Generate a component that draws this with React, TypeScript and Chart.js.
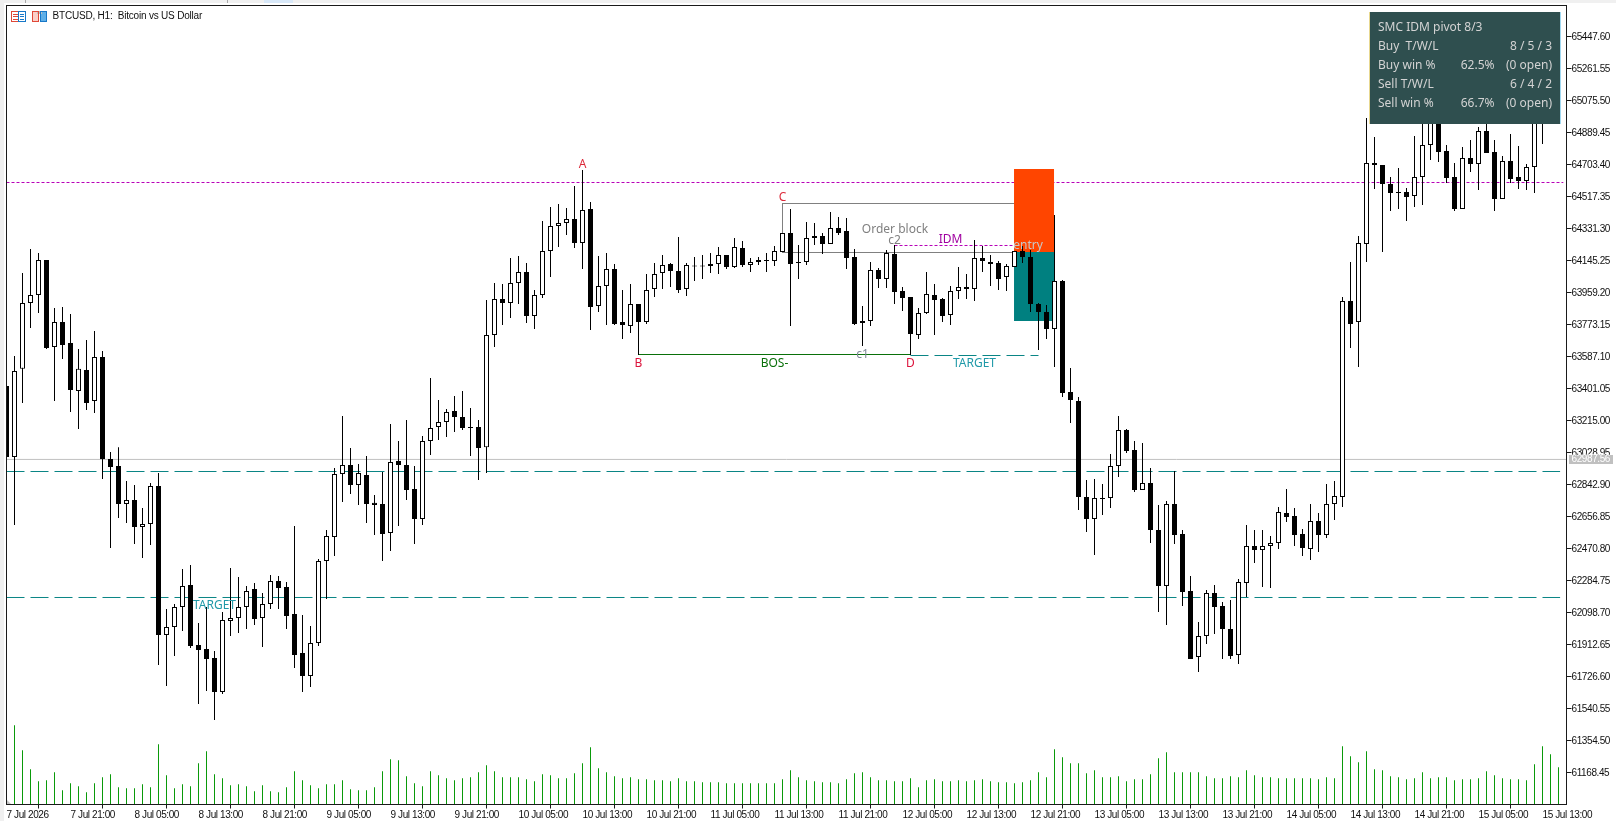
import React, { useEffect, useRef } from "react";
import { Chart, registerables } from "chart.js";

Chart.register(...registerables);

const opens = [
  63414,63001,63514,63897,63944,64147,63641,63786,63665,63385,
  63507,63327,63583,62990,62949,62729,62752,62594,62612,62833,
  61967,62013,62129,62258,61909,61885,61833,61635,62048,62065,
  62129,62234,62065,62147,62281,62246,62089,61862,61728,61920,
  62397,62536,62903,62955,62839,62897,62735,62729,62560,62978,
  62955,62816,62641,63095,63176,63205,63269,63234,63176,63176,
  63059,63711,63920,63897,64013,64077,63821,63944,64199,64345,
  64362,64385,64246,64443,63880,63996,64094,63786,63763,63891,
  63786,63978,64071,64124,64083,63978,64109,64112,64112,64124,
  64176,64106,64217,64118,64135,64147,64141,64193,64304,64135,
  64135,64275,64287,64240,64333,64315,64165,63780,63792,64089,
  64036,64182,63967,63932,63711,63839,63944,63920,63827,63967,
  63990,63978,64159,64135,64129,64048,64106,64199,64165,63891,
  63845,63746,64025,63379,63327,62769,62641,62757,62763,62949,
  63159,63042,62810,62850,62577,62252,62729,62554,62222,61839,
  61961,62211,62135,62002,61851,62269,62484,62461,62484,62502,
  62676,62659,62554,62467,62629,62548,62728,62769,63908,63786,
  64240,64711,64699,64589,64542,64542,64519,64629,64816,65048,
  64781,64629,64443,64740,64705,64897,64775,64502,64722,64629,
  64606,64688,65251,65135,65310,
];
const closes = [
  63001,63501,63897,63944,64147,63636,63786,63653,63391,63514,
  63316,63583,62990,62943,62729,62752,62594,62612,62833,61967,
  62013,62129,62252,61903,61880,61827,61635,62054,62065,62129,
  62222,62060,62147,62281,62240,62077,61851,61728,61920,62397,
  62542,62903,62955,62839,62909,62729,62723,62554,62973,62955,
  62810,62641,63095,63170,63205,63263,63234,63170,63170,63054,
  63711,63920,63897,64013,64077,63821,63944,64199,64345,64362,
  64385,64246,64438,63874,63996,64094,63775,63769,63891,63786,
  63973,64065,64118,64083,63973,64118,64112,64109,64124,64176,
  64106,64222,64118,64135,64147,64141,64199,64304,64124,64129,
  64275,64287,64240,64333,64304,64159,63775,63792,64089,64036,
  64188,63961,63926,63717,63839,63949,63914,63821,63967,63990,
  63978,64159,64141,64124,64036,64112,64199,64165,63891,63845,
  63746,64025,63373,63333,62769,62641,62763,62763,62949,63159,
  63036,62810,62850,62577,62252,62729,62548,62217,61827,61961,
  62211,62129,62002,61845,62275,62484,62461,62484,62502,62682,
  62653,62548,62473,62629,62548,62728,62775,63908,63775,64246,
  64711,64699,64589,64536,64536,64513,64629,64816,65019,64775,
  64624,64443,64740,64705,64897,64769,64502,64722,64618,64606,
  64688,65077,65077,65310,65077,
];
const highs = [
  63414,63589,64072,64211,64188,64147,63868,63874,63833,63630,
  63682,63734,63618,63030,63059,62862,62839,62705,62850,62909,
  62118,62147,62351,62374,62037,62129,61874,62100,62356,62304,
  62252,62269,62211,62316,62310,62275,62600,62083,62019,62409,
  62577,62938,63240,63054,62961,63007,62781,62915,63194,63095,
  63217,62949,63123,63461,63333,63281,63356,63385,63287,63217,
  63914,64013,64007,64159,64170,64129,63973,64374,64455,64473,
  64449,64577,64670,64484,64170,64188,64124,63973,64007,63891,
  64065,64129,64176,64129,64281,64129,64165,64176,64188,64223,
  64176,64275,64257,64159,64165,64188,64228,64304,64443,64234,
  64368,64362,64304,64426,64397,64391,64211,63879,64135,64100,
  64205,64234,63990,63932,63868,64077,64007,63926,63996,64106,
  64065,64263,64228,64176,64141,64124,64199,64228,64205,63897,
  63885,64409,64031,63519,63350,62868,62874,62845,63019,63240,
  63165,63095,63083,62938,62723,62746,62920,62577,62310,62042,
  62228,62258,62159,62170,62292,62606,62577,62577,62542,62711,
  62816,62705,62583,62728,62676,62845,62862,63932,64135,64286,
  64972,64862,64699,64629,64682,64565,64868,64972,65077,65106,
  64816,64711,64804,64845,64920,64990,64845,64751,64880,64810,
  64705,65135,65310,65370,65400,
];
const lows = [
  62995,62606,63316,63752,63839,63630,63327,63572,63263,63165,
  63275,63257,62874,62473,62647,62618,62496,62414,62490,61792,
  61670,61845,61990,61891,61566,61641,61473,61624,61961,61978,
  62002,62025,61897,62118,62118,62002,61775,61635,61664,61903,
  62176,62426,62740,62786,62723,62618,62548,62397,62455,62600,
  62752,62496,62606,63013,63100,63118,63147,63159,63007,62868,
  62909,63641,63769,63810,63891,63780,63746,63926,64048,64222,
  64292,64217,64094,63740,63845,63769,63769,63687,63722,63595,
  63775,63932,63978,63990,63955,63938,64025,64036,64071,64065,
  64094,64100,64106,64077,64118,64077,64112,64193,63763,64036,
  64118,64234,64182,64240,64292,64094,63769,63647,63763,63984,
  63984,63891,63850,63595,63687,63833,63711,63786,63769,63920,
  63920,63909,64077,63996,63973,63967,64106,64129,63845,63624,
  63687,63525,63350,63199,62694,62565,62432,62664,62705,62885,
  63025,62798,62810,62502,62100,62025,62496,62135,61827,61751,
  61915,61973,61827,61827,61798,62188,62385,62246,62240,62467,
  62624,62484,62426,62403,62450,62531,62635,62711,63635,63525,
  64135,64560,64193,64432,64443,64374,64455,64467,64728,64716,
  64595,64432,64443,64658,64554,64769,64432,64502,64595,64560,
  64554,64536,64821,65077,65000,
];
const volumes = [
  430,2380,1630,1060,700,730,970,430,640,550,
  370,640,820,910,520,490,490,610,520,1810,
  880,490,610,550,1240,1600,910,790,580,610,
  550,400,580,400,370,520,1000,730,580,490,
  610,610,730,460,430,430,520,1000,1360,1330,
  850,640,550,1000,880,790,730,790,820,970,
  1180,1000,820,820,820,760,700,910,880,790,
  790,940,1240,1720,1090,970,850,790,820,760,
  760,730,730,700,790,700,700,670,670,670,
  640,640,640,640,640,640,640,760,1030,820,
  730,700,670,670,640,760,940,970,820,730,
  730,700,700,790,520,730,760,700,700,730,
  700,730,760,700,670,670,640,670,730,970,
  820,1660,1420,1240,1240,940,1030,820,820,850,
  700,760,760,910,1390,1570,970,970,970,970,
  850,790,790,850,820,1030,880,820,820,790,
  790,790,790,790,760,820,790,1750,1450,1270,
  1600,1060,1030,850,820,760,790,970,790,820,
  820,730,760,760,790,1000,880,790,760,760,
  730,1210,1750,1510,1120,
];

const xTickBars = [0,8,16,24,32,40,48,56,64,72,80,88,96,104,112,120,128,136,144,152,160,168,176,184,192];
const xTickLabels = [
  "7 Jul 2026","7 Jul 21:00","8 Jul 05:00","8 Jul 13:00","8 Jul 21:00","9 Jul 05:00","9 Jul 13:00","9 Jul 21:00",
  "10 Jul 05:00","10 Jul 13:00","10 Jul 21:00","11 Jul 05:00","11 Jul 13:00","11 Jul 21:00","12 Jul 05:00","12 Jul 13:00",
  "12 Jul 21:00","13 Jul 05:00","13 Jul 13:00","13 Jul 21:00","14 Jul 05:00","14 Jul 13:00","14 Jul 21:00","15 Jul 05:00","15 Jul 13:00",
];
const yTickValues = [
  65447.6,65261.55,65075.5,64889.45,64703.4,64517.35,64331.3,64145.25,63959.2,63773.15,63587.1,63401.05,
  63215,63028.95,62842.9,62656.85,62470.8,62284.75,62098.7,61912.65,61726.6,61540.55,61354.5,61168.45,
];

const bidPrice = 62987.56;
const pivotLevel = 64597.5;
const upperTargetLevel = 62917.3;
const lowerTargetLevel = 62184.8;
const bosLevel = 63597.5;
const setupTargetLevel = 63591.7;
const idmLevel = 64231.3;

const labelTexts = ["A","B","C","D","Order block","c2","c1","IDM","entry","BOS-","TARGET","TARGET"];
const labelBars = [72,79,97,113,111.06,111,107,118,127.7,96,121,26];
const labelPrices = [64703,63546,64508,63544,64322,64262,63598,64264,64228,63546,63544,62138];
const labelColors = ["#dc2a3a","#dc143c","#dc2a3a","#dc143c","#808080","#808080","#808a98","#a000a0","#c8c8c8","#0a700a","#1f99a8","#1f99a8"];

const panelRows = [
  ["SMC IDM pivot 8/3","",""],
  ["Buy  T/W/L","","8 / 5 / 3"],
  ["Buy win %","62.5%","(0 open)"],
  ["Sell T/W/L","","6 / 4 / 2"],
  ["Sell win %","66.7%","(0 open)"],
];
const titleText = "BTCUSD, H1:  Bitcoin vs US Dollar";

const W = 1616, H = 821, L = 6.5, R = 1566.5, T = 5.5, B = 804.5;
const AXIS_FONT = { family: "'Liberation Sans',sans-serif", size: 10 };
const AXIS_SPACING = "-0.4px";

const bars = opens.map((_, i) => i);

function hline(y: number, from: number, to: number, color: string, dash: number[], order: number) {
  return {
    type: "line", data: [{ x: from, y }, { x: to, y }], borderColor: color, borderDash: dash, borderWidth: 1,
    pointRadius: 0, tension: 0, order, yAxisID: "y", xAxisID: "x",
  };
}

function noPad(s: any) {
  s.paddingTop = 0; s.paddingBottom = 0; s.paddingLeft = 0; s.paddingRight = 0;
}

const overlay = {
  id: "overlay",
  afterLayout(chart: any) {
    const items = chart.scales.y.getLabelItems(chart.chartArea);
    items.forEach((it: any) => { it.options.translation = [it.options.translation[0], it.options.translation[1] + 1]; });
  },
  beforeDraw(chart: any) {
    const c = chart.ctx;
    c.save();
    c.fillStyle = "#ffffff"; c.fillRect(0, 0, W, H);
    c.fillStyle = "#f0f0f0"; c.fillRect(0, 0, W, 3); c.fillRect(0, 0, 4, H);
    c.fillStyle = "#a8a8a8"; c.fillRect(25, 0, 1, 3); c.fillRect(227, 0, 1, 3);
    c.fillStyle = "#d8e8f8"; c.fillRect(264, 0, 29, 3);
    c.restore();
    c.letterSpacing = AXIS_SPACING;
  },
  afterDatasetsDraw(chart: any) {
    const c = chart.ctx;
    const sx = chart.scales.x, sy = chart.scales.y;
    c.save();
    c.letterSpacing = "0px";
    c.strokeStyle = "#1a1a1a"; c.lineWidth = 1;
    c.strokeRect(L, T, R - L, B - T);
    c.fillStyle = "#c4c4c4";
    c.beginPath(); c.moveTo(7, 804); c.lineTo(11, 804); c.lineTo(7, 800); c.closePath(); c.fill();

    c.textAlign = "center"; c.textBaseline = "middle"; c.font = "12px 'Noto Sans'";
    labelTexts.forEach((t, i) => {
      c.fillStyle = labelColors[i];
      c.fillText(t, sx.getPixelForValue(labelBars[i]), sy.getPixelForValue(labelPrices[i]));
    });

    // bid label
    c.fillStyle = "#c0c0c0"; c.fillRect(1569, 455, 44, 9);
    c.fillStyle = "#ffffff"; c.textAlign = "left";
    c.letterSpacing = AXIS_SPACING;
    c.font = `${AXIS_FONT.size}px ${AXIS_FONT.family}`;
    c.fillText(bidPrice.toFixed(2), 1571.5, 459.5);
    c.letterSpacing = "0px";

    // stats panel
    c.fillStyle = "#2f4f4f"; c.fillRect(1369, 12, 192, 112);
    c.fillStyle = "#e8d890"; c.fillRect(1369, 12, 1, 112);
    c.fillStyle = "#a0d8f0"; c.fillRect(1560, 12, 1, 112);
    c.font = "12px 'Noto Sans'"; c.fillStyle = "#d3d3d3"; c.textBaseline = "middle";
    panelRows.forEach((row, i) => {
      const y = 28 + i * 19;
      c.textAlign = "left"; c.fillText(row[0], 1378, y);
      c.textAlign = "right";
      if (row[1]) c.fillText(row[1], 1494.5, y);
      if (row[2]) c.fillText(row[2], 1552, y);
    });

    // title + icons
    c.textAlign = "left"; c.fillStyle = "#101010"; c.font = "10px 'Liberation Sans'";
    c.letterSpacing = "-0.2px";
    c.fillText(titleText, 52.5, 16.5);
    c.letterSpacing = "0px";
    c.strokeStyle = "#e04838"; c.strokeRect(11.5, 11.5, 7, 10);
    c.strokeStyle = "#1878c8"; c.strokeRect(18.5, 11.5, 7, 10);
    c.fillStyle = "#e04838"; c.fillRect(13, 14, 5, 1); c.fillRect(13, 16, 5, 1); c.fillRect(13, 19, 5, 1);
    c.fillStyle = "#1878c8"; c.fillRect(20, 14, 4, 1); c.fillRect(20, 16, 4, 1); c.fillRect(20, 19, 4, 1);
    c.fillStyle = "#fbd0c8"; c.fillRect(33, 12, 6, 10);
    c.fillStyle = "#60b0e8"; c.fillRect(41, 12, 6, 10);
    c.fillStyle = "#c0c0c0"; c.fillRect(37, 11, 5, 3);
    c.strokeStyle = "#e04838"; c.strokeRect(32.5, 11.5, 6, 10);
    c.strokeStyle = "#1878c8"; c.strokeRect(40.5, 11.5, 6, 10);
    c.restore();
  },
};

export default function App() {
  const ref = useRef<HTMLCanvasElement | null>(null);
  useEffect(() => {
    document.body.style.margin = "0";
    const chart = new Chart(ref.current as any, {
      type: "bar",
      data: {
        datasets: [
          {
            data: bars.map((i) => ({ x: i, y: [opens[i], closes[i]] })),
            backgroundColor: bars.map((i) => (closes[i] >= opens[i] ? "#ffffff" : "#000000")),
            borderColor: "#000000", borderWidth: 1, borderSkipped: false, barThickness: 5, minBarLength: 1, order: 1,
          },
          {
            data: bars.map((i) => ({ x: i, y: [lows[i], highs[i]] })),
            backgroundColor: "#000000", barThickness: 1, order: 2,
          },
          {
            data: bars.map((i) => ({ x: i, y: volumes[i] })),
            backgroundColor: "#0a9a0a", barThickness: 1, yAxisID: "vol", order: 3,
          },
          {
            data: [{ x: 128.44, y: [64193.5, 64676] }],
            backgroundColor: "#ff4500", barThickness: 40, order: 4,
          },
          {
            data: [{ x: 128.44, y: [63792.3, 64193.5] }],
            backgroundColor: "#008080", barThickness: 40, order: 4,
          },
          {
            data: [{ x: 111.5, y: [64187.7, 64478.4] }],
            backgroundColor: "rgba(0,0,0,0)", borderColor: "#808080", borderWidth: 1, borderSkipped: false, barThickness: 233, order: 5,
          },
          hline(pivotLevel, 0, 194.6, "#b800b8", [3, 2], 6),
          hline(idmLevel, 111, 126, "#b800b8", [3, 2], 6),
          hline(bidPrice, 0, 195, "#c0c0c0", [], 7),
          hline(upperTargetLevel, 0, 194.2, "#0a8585", [18, 6], 6),
          hline(lowerTargetLevel, 0, 194.2, "#0a8585", [18, 6], 6),
          hline(setupTargetLevel, 113, 129, "#0a8585", [18, 6], 6),
          hline(bosLevel, 79, 113, "#0a700a", [], 6),
        ] as any,
      },
      options: {
        animation: false,
        responsive: false,
        devicePixelRatio: 1,
        events: [],
        layout: { padding: { left: L, top: T, right: 0, bottom: 0 } },
        elements: { bar: { inflateAmount: 0 } },
        datasets: { bar: { grouped: false } },
        plugins: { legend: { display: false }, tooltip: { enabled: false }, title: { display: false } },
        scales: {
          x: {
            type: "linear", min: 0, max: 195, offset: false, position: "bottom",
            afterFit(s: any) { s.height = H - B; noPad(s); },
            afterBuildTicks(s: any) { s.ticks = xTickBars.map((value) => ({ value })); },
            border: { display: false },
            grid: { drawOnChartArea: false, drawTicks: true, tickLength: 4, color: "#1a1a1a" },
            ticks: {
              autoSkip: false, maxRotation: 0, minRotation: 0, align: "start", padding: 1, color: "#101010", font: AXIS_FONT,
              callback: (v: any) => xTickLabels[xTickBars.indexOf(Number(v))] ?? "",
            },
          },
          y: {
            type: "linear", min: 60981.3, max: 65626.6, position: "right",
            afterFit(s: any) { s.width = W - R; noPad(s); },
            afterBuildTicks(s: any) { s.ticks = yTickValues.map((value) => ({ value })); },
            border: { display: false },
            grid: { drawOnChartArea: false, drawTicks: true, tickLength: 5, color: "#1a1a1a" },
            ticks: {
              autoSkip: false, padding: 0, crossAlign: "near", color: "#101010", font: AXIS_FONT,
              callback: (v: any) => Number(v).toFixed(2),
            },
          },
          vol: { type: "linear", min: 0, max: 23970, display: false },
        },
      },
      plugins: [overlay],
    } as any);
    return () => chart.destroy();
  }, []);
  return (
    <div style={{ position: "fixed", left: 0, top: 0, width: W, height: H, overflow: "hidden", background: "#fff" }}>
      <canvas ref={ref} width={W} height={H} style={{ display: "block", width: W, height: H }} />
    </div>
  );
}
